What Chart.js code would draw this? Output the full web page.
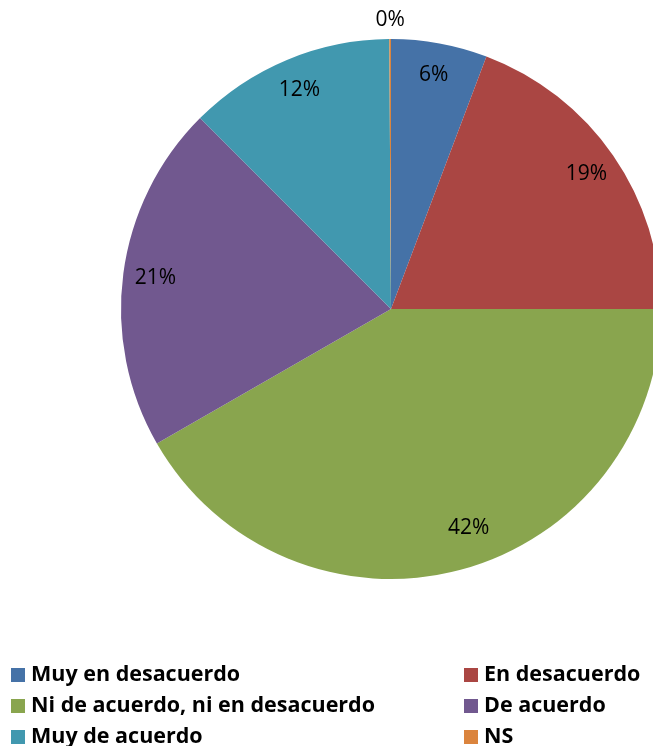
<!DOCTYPE html>
<html>
<head>
<meta charset="utf-8">
<script src="https://cdn.jsdelivr.net/npm/chart.js@4.4.0/dist/chart.umd.min.js"></script>
<style>
  body { margin: 0; background: #fff; overflow: hidden; }
  #wrap { position: relative; width: 653px; height: 746px; overflow: hidden; }
  #pie { position: absolute; left: 0; top: 0; }
  #legend { position: absolute; left: 0; top: 657px; width: 653px; font-family: "Open Sans", sans-serif; font-weight: bold; font-size: 21.5px; color: #000; }
  .item { position: absolute; height: 31px; line-height: 31px; white-space: nowrap; }
  .box { display: inline-block; width: 14px; height: 14px; margin-right: 6px; vertical-align: -1px; }
</style>
</head>
<body>
<div id="wrap">
  <canvas id="pie" width="700" height="746"></canvas>
  <div id="legend"></div>
</div>
<script>
// answers, in order clockwise from the top
const labels = ['Muy en desacuerdo', 'En desacuerdo', 'Ni de acuerdo, ni en desacuerdo', 'De acuerdo', 'Muy de acuerdo', 'NS'];
const values = [5.75, 19.25, 41.7, 20.8, 12.4, 0.1];
const colors = ['#4572A7', '#AA4643', '#89A54E', '#71588F', '#4198AF', '#DB843D'];

// percent labels on the slices (tiny ones go outside)
const pctLabels = {
  id: 'pctLabels',
  afterDatasetsDraw(chart) {
    const ctx = chart.ctx;
    const meta = chart.getDatasetMeta(0);
    ctx.save();
    ctx.font = '21px "Open Sans", sans-serif';
    ctx.fillStyle = '#000';
    ctx.textAlign = 'center';
    ctx.textBaseline = 'middle';
    meta.data.forEach((arc, i) => {
      const p = arc.getProps(['x', 'y', 'startAngle', 'endAngle', 'outerRadius'], true);
      let mid = (p.startAngle + p.endAngle) / 2;
      let r = p.outerRadius * 0.88;
      if (values[i] < 1) r = p.outerRadius + 19;
      if (values[i] > 40) { mid -= 0.08; r = p.outerRadius * 0.86; } // excel best-fit nudge
      ctx.fillText(Math.round(values[i]) + '%', p.x + Math.cos(mid) * r, p.y + Math.sin(mid) * r);
    });
    ctx.restore();
  }
};

new Chart(document.getElementById('pie'), {
  type: 'pie',
  data: {
    labels: labels,
    datasets: [{
      data: values,
      backgroundColor: colors,
      borderWidth: 0,
      hoverOffset: 0
    }]
  },
  options: {
    responsive: false,
    animation: false,
    devicePixelRatio: 1,
    layout: { padding: { left: 121, right: 39, top: 39, bottom: 167 } },
    plugins: {
      legend: { display: false },
      tooltip: { enabled: false }
    }
  },
  plugins: [pctLabels]
});

// legend, two columns
const legend = document.getElementById('legend');
labels.forEach((name, i) => {
  const div = document.createElement('div');
  div.className = 'item';
  div.style.left = (i % 2 === 0 ? 11 : 464) + 'px';
  div.style.top = (Math.floor(i / 2) * 31) + 'px';
  div.innerHTML = '<span class="box" style="background:' + colors[i] + '"></span>' + name;
  legend.appendChild(div);
});
</script>
</body>
</html>
